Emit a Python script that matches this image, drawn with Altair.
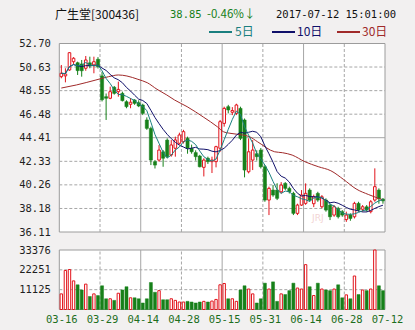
import json
import altair as alt
import pandas as pd

# ---------------- data ----------------
tick_labels = ["03-16", "03-29", "04-14", "04-28", "05-15", "05-31", "06-14", "06-28", "07-12"]

opens = [49.78, 49.85, 50.37, 51.10, 51.01, 50.90, 50.52, 51.00, 50.81, 51.31,
         49.85, 48.02, 47.88, 48.85, 48.46, 48.31, 47.58, 47.35, 47.73, 47.49,
         47.29, 45.97, 45.23, 42.30, 42.44, 43.17, 44.20, 42.89, 43.48, 43.92,
         44.06, 44.35, 43.48, 43.10, 42.80, 41.80, 42.60, 42.30, 42.30, 43.48,
         45.67, 47.14, 46.65, 46.55, 46.99, 45.97, 41.41, 42.44, 43.00, 43.32,
         41.85, 38.92, 39.80, 39.80, 39.65, 40.39, 39.95, 39.51, 37.75, 38.48,
         38.63, 39.80, 38.60, 39.51, 38.33, 38.92, 38.48, 37.60, 38.19, 37.90,
         37.20, 37.60, 37.45, 38.63, 38.11, 38.33, 37.90, 38.92, 39.80, 39.00]
highs = [50.81, 50.52, 51.95, 51.50, 51.10, 51.25, 51.60, 51.54, 51.54, 51.50,
         50.20, 48.30, 48.90, 48.96, 49.34, 48.46, 47.70, 47.90, 47.80, 47.70,
         47.40, 46.20, 45.38, 42.44, 43.76, 43.32, 44.35, 44.20, 44.50, 44.85,
         45.10, 44.50, 43.80, 43.30, 42.90, 42.60, 42.74, 42.74, 43.70, 45.97,
         47.14, 47.30, 47.10, 47.40, 47.14, 46.10, 44.35, 44.20, 43.30, 43.50,
         42.00, 40.10, 40.24, 40.40, 40.50, 40.50, 40.10, 39.65, 38.60, 39.80,
         40.39, 39.95, 39.40, 39.65, 39.36, 39.07, 38.60, 38.48, 38.33, 38.04,
         37.90, 37.75, 38.77, 38.77, 38.48, 38.48, 38.92, 41.71, 39.95, 39.10]
lows = [49.64, 49.28, 50.30, 50.90, 49.93, 49.78, 50.30, 50.52, 50.08, 50.50,
        47.60, 45.97, 47.80, 48.20, 48.02, 47.60, 47.00, 47.00, 47.30, 47.10,
        46.40, 45.10, 42.00, 41.70, 42.30, 41.85, 42.60, 42.74, 42.74, 43.80,
        43.90, 43.00, 43.00, 42.40, 41.80, 41.00, 42.10, 41.30, 41.80, 43.17,
        45.38, 46.55, 46.40, 46.40, 44.20, 40.92, 41.27, 41.56, 42.40, 41.70,
        38.77, 37.60, 39.21, 38.92, 39.50, 39.80, 39.50, 37.60, 37.60, 38.40,
        38.50, 38.77, 38.30, 38.77, 38.20, 37.90, 37.16, 37.45, 37.30, 37.45,
        37.00, 37.10, 37.30, 37.90, 37.90, 37.90, 37.75, 38.77, 38.60, 38.60]
closes = [50.08, 50.02, 51.89, 51.40, 50.31, 50.30, 51.25, 50.72, 51.10, 50.66,
          47.75, 47.88, 48.46, 48.31, 48.66, 47.67, 47.14, 47.53, 47.43, 47.20,
          46.55, 45.23, 42.44, 42.00, 43.32, 42.60, 42.74, 43.77, 44.21, 44.65,
          44.94, 43.48, 43.17, 42.74, 41.85, 42.44, 42.30, 42.44, 43.62, 45.82,
          46.99, 46.85, 46.80, 47.29, 44.35, 41.56, 43.17, 43.32, 42.74, 41.85,
          38.92, 39.95, 39.36, 39.07, 40.24, 39.95, 39.65, 37.75, 38.48, 39.36,
          39.51, 38.92, 39.20, 38.92, 39.21, 38.04, 37.45, 38.33, 37.45, 37.60,
          37.60, 37.30, 38.63, 38.04, 38.33, 38.04, 38.77, 40.10, 39.03, 38.85]
volumes = [8760, 21890, 22430, 16050, 13860, 10940, 14230, 7300, 8760, 7840,
           13310, 6020, 6020, 5110, 9120, 10940, 12770, 6570, 6570, 6020,
           3650, 6020, 15140, 9670, 10580, 5470, 5470, 6020, 5110, 4200,
           4200, 4560, 4200, 3650, 4200, 4560, 4200, 4740, 5650, 13860,
           14590, 6020, 6020, 4560, 10940, 13310, 11490, 8760, 3650, 6020,
           14770, 11490, 15500, 4560, 8760, 8390, 10580, 14770, 12040, 11490,
           25170, 12770, 7840, 14770, 11490, 10940, 10580, 11490, 13860, 6570,
           8210, 6020, 18790, 8390, 10940, 10580, 11490, 33376, 13310, 10580]

ma30_pos = [0.5, 4.2, 9.0, 12.1, 14.5, 16.6, 19.3, 21.6, 24.0, 26.4, 28.3, 31.4,
            35.5, 38.8, 40.3, 41.9, 45.0, 46.7, 48.7, 52.9, 54.8, 57.2, 60.3,
            63.6, 66.7, 69.8, 72.9, 76.0, 79.4]
ma30_val = [48.78, 49.05, 49.49, 49.78, 49.93, 49.84, 49.55, 49.25, 48.67, 48.17,
            47.73, 47.14, 46.20, 45.38, 44.94, 44.80, 44.65, 44.50, 44.05, 43.17,
            43.09, 42.88, 42.30, 41.86, 41.50, 40.74, 39.90, 39.40, 38.95]

price_ticks = [36.11, 38.18, 40.26, 42.33, 44.41, 46.48, 48.55, 50.63, 52.70]
vol_ticks = [11125, 22251, 33376]

title_text = "广生堂[300436]"
last_text = "38.85"
change_text = "-0.46%↓"
time_text = "2017-07-12 15:01:00"
legend_labels = ["5日", "10日", "30日"]

# ---------------- styling ----------------
RED = "#e2141c"
GREEN = "#17801a"
TEAL = "#1a7f7f"
NAVY = "#10106a"
MAROON = "#a02a2a"
GRID = "#a6a6a6"
FRAME = "#9c9c9c"
MONO = "DejaVu Sans Mono"
CJK = "Noto Sans CJK SC"

n = len(closes)
df = pd.DataFrame({
    "pos": [i + 0.5 for i in range(n)],
    "open": opens, "high": highs, "low": lows, "close": closes, "vol": volumes,
})
ma30_df = pd.DataFrame({"pos": ma30_pos, "ma30": ma30_val})
one = pd.DataFrame({"a": [0]})

xs = alt.Scale(domain=[0, 80], range=[54.3, 390], nice=False, zero=False)
ps = alt.Scale(domain=[price_ticks[0], price_ticks[-1]], range=[232, 43.5], nice=False, zero=False)
vs = alt.Scale(domain=[0, vol_ticks[-1]], range=[309.5, 250], nice=False, zero=True)

label_expr = json.dumps(tick_labels) + "[round(datum.value / 10)]"
xaxis = alt.Axis(values=[10 * k for k in range(len(tick_labels))], labelExpr=label_expr,
                 orient="bottom", offset=-20.5, ticks=False, domain=False, grid=False,
                 labelFont=MONO, labelFontSize=10.5, labelColor="#1d6e1d", labelPadding=5,
                 labelFlush=False, labelOverlap=False, labelOffset=2, title=None)
paxis = alt.Axis(values=price_ticks, format=".2f", orient="left", offset=-54.3,
                 ticks=False, domain=False, grid=False, labelPadding=4,
                 labelFont=MONO, labelFontSize=10.5, labelColor="#1e1e1e",
                 labelOverlap=False, title=None)
vaxis = alt.Axis(values=vol_ticks, format="d", orient="left", offset=-54.3,
                 ticks=False, domain=False, grid=False, labelPadding=4,
                 labelFont=MONO, labelFontSize=10.5, labelColor="#1e1e1e",
                 labelOverlap=False, title=None)


def X(field="pos"):
    return alt.X(f"{field}:Q", scale=xs, axis=xaxis)


def XD(v):
    return alt.XDatum(v, scale=xs, axis=xaxis)


def PY(field):
    return alt.Y(f"{field}:Q", scale=ps, axis=paxis)


def PYD(v):
    return alt.YDatum(v, scale=ps, axis=paxis)


def VY(field):
    return alt.Y(f"{field}:Q", scale=vs, axis=vaxis)


def VYD(v):
    return alt.YDatum(v, scale=vs, axis=vaxis)


def txt(s, x, y, color, font, size, align="left"):
    return alt.Chart(pd.DataFrame({"t": [s]})).mark_text(
        align=align, baseline="middle", color=color, font=font, fontSize=size
    ).encode(text="t:N", x=alt.value(x), y=alt.value(y))


def leg_line(x1, x2, y, color):
    return alt.Chart(one).mark_rule(color=color, strokeWidth=2).encode(
        x=alt.value(x1), x2=alt.value(x2), y=alt.value(y))


vgrid_dashed = [10, 30, 50, 70]
vgrid_solid = [20, 40, 60]
inner_price = price_ticks[1:-1]
mid_price = price_ticks[len(price_ticks) // 2]

# ---------------- price panel ----------------
p_panel = alt.Chart(one).mark_rect(fill="white", stroke=FRAME, strokeWidth=1).encode(
    x=XD(0), x2=alt.X2Datum(80), y=PYD(price_ticks[0]), y2=alt.Y2Datum(price_ticks[-1]))

p_hgrid_d = alt.Chart(pd.DataFrame({"v": [v for v in inner_price if v != mid_price]})).mark_rule(
    color=GRID, strokeDash=[3, 2], strokeWidth=1).encode(x=XD(0), x2=alt.X2Datum(80), y=PY("v"))
p_hgrid_s = alt.Chart(pd.DataFrame({"v": [mid_price]})).mark_rule(
    color=GRID, strokeWidth=1).encode(x=XD(0), x2=alt.X2Datum(80), y=PY("v"))
p_vgrid_d = alt.Chart(pd.DataFrame({"k": vgrid_dashed})).mark_rule(
    color=GRID, strokeDash=[3, 2], strokeWidth=1).encode(
    x=X("k"), y=PYD(price_ticks[0]), y2=alt.Y2Datum(price_ticks[-1]))
p_vgrid_s = alt.Chart(pd.DataFrame({"k": vgrid_solid})).mark_rule(
    color=GRID, strokeWidth=1).encode(
    x=X("k"), y=PYD(price_ticks[0]), y2=alt.Y2Datum(price_ticks[-1]))

watermark = txt("JRJ", 312, 218, "#f2d4d4", "DejaVu Sans", 9)

base = alt.Chart(df)
up_f = "datum.close >= datum.open"
dn_f = "datum.close < datum.open"

wick_up = base.transform_filter(up_f).mark_rule(color=RED, strokeWidth=1).encode(
    x=X(), y=PY("low"), y2="high:Q")
wick_dn = base.transform_filter(dn_f).mark_rule(color=GREEN, strokeWidth=1).encode(
    x=X(), y=PY("low"), y2="high:Q")
body_up = base.transform_filter(up_f).mark_bar(
    size=2.6, fill="white", stroke=RED, strokeWidth=1).encode(
    x=X(), y=PY("open"), y2="close:Q")
body_dn = base.transform_filter(dn_f).mark_bar(
    size=3.2, fill=GREEN, stroke=GREEN, strokeWidth=0.5).encode(
    x=X(), y=PY("open"), y2="close:Q")

ma30_line = alt.Chart(ma30_df).mark_line(color=MAROON, strokeWidth=1, interpolate="monotone").encode(
    x=X(), y=PY("ma30"))
ma10_line = base.transform_window(
    ma10="mean(close)", frame=[-9, 0], sort=[alt.SortField("pos")]
).mark_line(color=NAVY, strokeWidth=1).encode(x=X(), y=PY("ma10"))
ma5_line = base.transform_window(
    ma5="mean(close)", frame=[-4, 0], sort=[alt.SortField("pos")]
).mark_line(color=TEAL, strokeWidth=1).encode(x=X(), y=PY("ma5"))

header = [
    txt(title_text, 55, 14.5, "#111111", CJK, 12),
    txt(last_text, 170, 14.5, GREEN, MONO, 10.5),
    txt(change_text, 207, 14.5, GREEN, CJK, 11.5),
    txt(time_text, 276, 14.5, "#111111", MONO, 10.5),
    leg_line(209, 232, 32, TEAL),
    txt(legend_labels[0], 235, 32, TEAL, CJK, 12),
    leg_line(272, 295, 32, NAVY),
    txt(legend_labels[1], 297, 32, NAVY, CJK, 12),
    leg_line(337, 360, 32, MAROON),
    txt(legend_labels[2], 362, 32, MAROON, CJK, 12),
]

price = alt.layer(p_panel, p_hgrid_d, p_hgrid_s, p_vgrid_d, p_vgrid_s, watermark,
                  wick_up, wick_dn, body_up, body_dn, ma30_line, ma10_line, ma5_line,
                  *header)

# ---------------- volume panel ----------------
v_panel = alt.Chart(one).mark_rect(fill="white", stroke=FRAME, strokeWidth=1).encode(
    x=XD(0), x2=alt.X2Datum(80), y=VYD(0), y2=alt.Y2Datum(vol_ticks[-1]))
v_hgrid = alt.Chart(pd.DataFrame({"v": vol_ticks[:-1]})).mark_rule(
    color=GRID, strokeDash=[3, 2], strokeWidth=1).encode(x=XD(0), x2=alt.X2Datum(80), y=VY("v"))
v_vgrid_d = alt.Chart(pd.DataFrame({"k": vgrid_dashed})).mark_rule(
    color=GRID, strokeDash=[3, 2], strokeWidth=1).encode(
    x=X("k"), y=VYD(0), y2=alt.Y2Datum(vol_ticks[-1]))
v_vgrid_s = alt.Chart(pd.DataFrame({"k": vgrid_solid})).mark_rule(
    color=GRID, strokeWidth=1).encode(
    x=X("k"), y=VYD(0), y2=alt.Y2Datum(vol_ticks[-1]))
vol_up = base.transform_filter(up_f).mark_bar(
    size=2.4, fill="white", stroke=RED, strokeWidth=1).encode(x=X(), y=VY("vol"))
vol_dn = base.transform_filter(dn_f).mark_bar(
    size=3.0, fill=GREEN, stroke=GREEN, strokeWidth=0.5).encode(x=X(), y=VY("vol"))

vol = alt.layer(v_panel, v_hgrid, v_vgrid_d, v_vgrid_s, vol_up, vol_dn)

chart = alt.layer(price, vol).resolve_scale(y="independent").properties(
    width=415, height=330, autosize=alt.AutoSizeParams(type="none"), padding=0
).configure(background="#f2f0f0").configure_view(stroke=None, strokeWidth=0)

chart.save("out.html", embed_options={"renderer": "svg", "actions": False})
